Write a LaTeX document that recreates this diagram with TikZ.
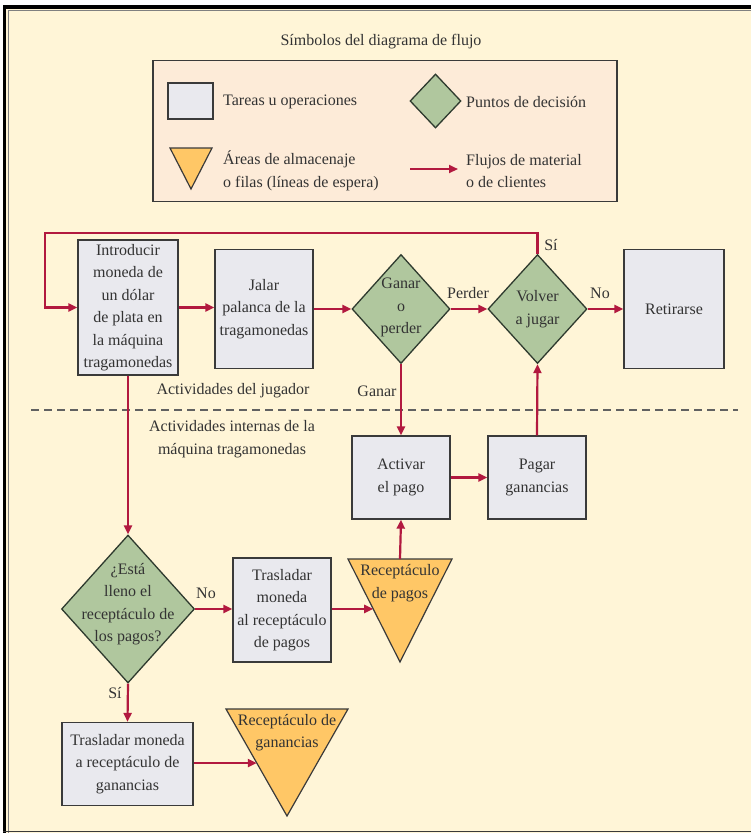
\documentclass[tikz,border=0pt]{standalone}
\usepackage{fontspec}
\setmainfont{Liberation Serif}
\usetikzlibrary{shapes.geometric,arrows.meta,calc}
\definecolor{bgy}{HTML}{FFF5D7}
\definecolor{legfill}{HTML}{FDEBD8}
\definecolor{boxfill}{HTML}{E9E9EE}
\definecolor{boxline}{HTML}{3A3A3A}
\definecolor{decfill}{HTML}{B0C79E}
\definecolor{decline}{HTML}{2E3A2E}
\definecolor{trifill}{HTML}{FFC766}
\definecolor{arrowc}{HTML}{B2193F}
\definecolor{txt}{HTML}{333333}
\begin{document}
\begin{tikzpicture}[x=1pt,y=-1pt,
  every node/.style={font=\fontsize{16}{22.5}\selectfont, text=txt},
  task/.style={rectangle,draw=boxline,fill=boxfill,line width=1.3pt,inner sep=0pt,align=center},
  dec/.style={diamond,draw=decline,fill=decfill,line width=1.3pt,inner sep=0pt},
  tri/.style={draw=boxline,fill=trifill,line width=1.2pt,line join=miter},
  flow/.style={draw=arrowc,line width=2.2pt,-{Triangle[length=9pt,width=8pt]}},
  lbl/.style={inner sep=0pt,align=center},
  lbll/.style={inner sep=0pt,align=left,anchor=west}]
\useasboundingbox (0,0) rectangle (751,833);
% frame
\fill[white] (0,0) rectangle (751,833);
\fill[bgy] (3,5) rectangle (751,833);
\fill[black] (3,5) rectangle (751,9);
\fill[black] (3,5) rectangle (6,833);
\draw[gray,line width=1.2pt] (8.5,833) -- (8.5,10.5) -- (751,10.5);
\draw[boxline,line width=1.5pt] (3,831.5) -- (751,831.5);
% legend
\node[lbl] (ltitle) at (381,42) {Símbolos del diagrama de flujo};
\node[draw=boxline,fill=legfill,line width=1.2pt,minimum width=464pt,minimum height=141pt,inner sep=0pt] (legend) at (385,131) {};
\node[task,minimum width=45pt,minimum height=36pt] (lsq) at (190.5,101) {};
\node[lbll] (ltask) at (223,102) {Tareas u operaciones};
\node[dec,minimum width=51pt,minimum height=54pt] (ldec) at (435.5,101) {};
\node[lbll] (ldect) at (466,102) {Puntos de decisión};
\filldraw[tri] (170,148) -- (212,148) -- (191,189) -- cycle;
\node[lbll] (lstore) at (223,171) {Áreas de almacenaje\\o filas (líneas de espera)};
\coordinate (la1) at (410,169);
\coordinate (la2) at (458,169);
\draw[flow] (la1) -- (la2);
\node[lbll] (lflow) at (466,171) {Flujos de material\\o de clientes};
% main nodes
\node[task,minimum width=100pt,minimum height=135pt] (box1) at (128,307.5) {Introducir\\moneda de\\un dólar\\de plata en\\la máquina\\tragamonedas};
\node[task,minimum width=98pt,minimum height=119pt] (box2) at (264,309) {Jalar\\palanca de la\\tragamonedas};
\node[dec,minimum width=98pt,minimum height=109pt] (gp) at (401,309) {};
\node[lbl] (gpt) at (401,307.5) {Ganar\\o\\perder};
\node[dec,minimum width=99pt,minimum height=109pt] (vj) at (537.5,309) {};
\node[lbl] (vjt) at (537.5,309) {Volver\\a jugar};
\node[task,minimum width=100pt,minimum height=119pt] (ret) at (674,309) {Retirarse};
\node[task,minimum width=98pt,minimum height=83pt] (act) at (401,477.5) {Activar\\el pago};
\node[task,minimum width=98pt,minimum height=83pt] (pag) at (537,477.5) {Pagar\\ganancias};
\node[dec,minimum width=133pt,minimum height=148pt] (est) at (128,609) {};
\node[lbl] (estt) at (128,604) {¿Está\\lleno el\\receptáculo de\\los pagos?};
\node[task,minimum width=98pt,minimum height=104pt] (tr1) at (282,610) {Trasladar\\moneda\\al receptáculo\\de pagos};
\node[task,minimum width=131pt,minimum height=83pt] (tr2) at (127.5,764) {Trasladar moneda\\a receptáculo de\\ganancias};
% storage triangles
\coordinate (t1tl) at (348,559);
\coordinate (t1tr) at (452,559);
\coordinate (t1ap) at (400,662);
\filldraw[tri] (t1tl) -- (t1tr) -- (t1ap) -- cycle;
\coordinate (t1top) at ($(t1tl)!0.5!(t1tr)$);
\coordinate (t1in) at ($(t1tl)!0.485!(t1ap)$);
\node[lbl] (t1t) at (400,583) {Receptáculo\\de pagos};
\coordinate (t2tl) at (226,709);
\coordinate (t2tr) at (348,709);
\coordinate (t2ap) at (287,816);
\filldraw[tri] (t2tl) -- (t2tr) -- (t2ap) -- cycle;
\coordinate (t2in) at ($(t2tl)!0.505!(t2ap)$);
\node[lbl] (t2t) at (287,732.5) {Receptáculo de\\ganancias};
% region labels and separator
\node[lbl] (jug) at (233,391) {Actividades del jugador};
\node[lbl] (intl) at (232,439) {Actividades internas de la\\máquina tragamonedas};
\draw[boxline!80,line width=1.3pt,dash pattern=on 8pt off 5pt] (31,410) -- (738,410);
% connectors
\coordinate (lt) at (45,233);
\draw[flow] (vj.north) |- (lt) |- (box1.west);
\node[lbl] (si1) at (551,245) {Sí};
\draw[flow] (box1.east) -- (box1.east -| box2.west);
\draw[flow] (box2.east) -- (gp.west);
\draw[flow] (gp.east) -- (vj.west);
\node[lbl] (perd) at (468,293) {Perder};
\draw[flow] (vj.east) -- (ret.west);
\node[lbl] (no1) at (600,293) {No};
\draw[flow] (gp.south) -- (act.north);
\node[lbl] (gan) at (377,391) {Ganar};
\draw[flow] (act.east) -- (pag.west);
\draw[flow] (pag.north) -- (vj.south);
\draw[flow] (box1.south) -- (est.north);
\draw[flow] (est.east) -- (est.east -| tr1.west);
\node[lbl] (no2) at (206,593) {No};
\draw[flow] (tr1.east |- t1in) -- (t1in);
\draw[flow] (t1top) -- (act.south);
\draw[flow] (est.south) -- (tr2.north);
\node[lbl] (si2) at (115,693) {Sí};
\draw[flow] (tr2.east |- t2in) -- (t2in);
\end{tikzpicture}
\end{document}
